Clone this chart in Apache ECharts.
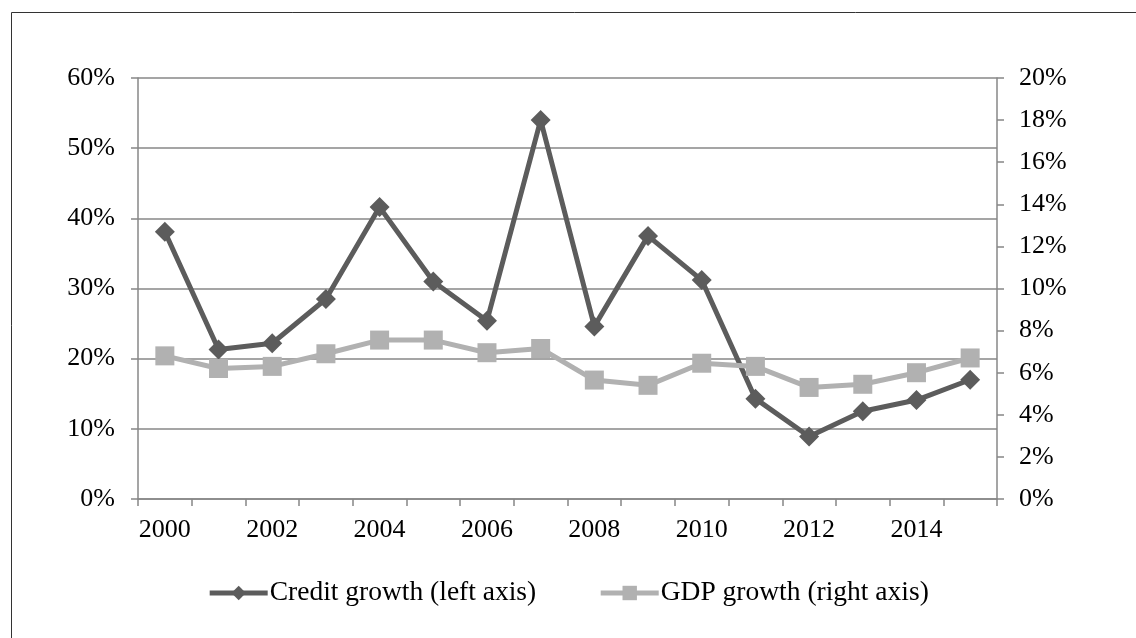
<!DOCTYPE html>
<html>
<head>
<meta charset="utf-8">
<script src="https://cdn.jsdelivr.net/npm/echarts@6/dist/echarts.min.js"></script>
<style>html,body{margin:0;padding:0;background:#fff;}#c{width:1136px;height:638px;}</style>
</head>
<body>
<div id="c"></div>
<script>
const years = ['2000','2001','2002','2003','2004','2005','2006','2007','2008','2009','2010','2011','2012','2013','2014','2015'];
const creditGrowth = [38.1, 21.3, 22.2, 28.5, 41.6, 31.0, 25.4, 54.0, 24.6, 37.5, 31.2, 14.3, 8.9, 12.5, 14.1, 17.0];
const gdpGrowth = [6.8, 6.2, 6.3, 6.9, 7.55, 7.55, 6.95, 7.15, 5.65, 5.4, 6.45, 6.3, 5.3, 5.45, 6.0, 6.7];
const seriesNames = ['Credit growth (left axis)', 'GDP growth (right axis)'];

const FONT = 'Liberation Serif';
const gridColor = '#878787';
const chart = echarts.init(document.getElementById('c'));
chart.setOption({
  animation: false,
  backgroundColor: '#fff',
  textStyle: { fontFamily: FONT },
  graphic: [{
    type: 'rect', left: 9, top: 10, silent: true,
    shape: { x: 0, y: 0, width: 1200, height: 700 },
    style: { fill: 'none', stroke: '#333', lineWidth: 1 }
  }],
  grid: { left: 138, right: 139, top: 78, bottom: 139 },
  legend: {
    left: 'center', top: 574, itemGap: 62, itemWidth: 58, itemHeight: 18,
    lineStyle: { width: 5 },
    textStyle: { fontFamily: FONT, fontSize: 27.5, color: '#000', padding: [0,0,0,-3] },
    data: seriesNames
  },
  xAxis: {
    type: 'category', data: years, boundaryGap: true,
    axisLine: { lineStyle: { color: gridColor, width: 1.5 } },
    axisTick: { show: true, inside: false, interval: 0, length: 7, lineStyle: { color: gridColor, width: 1.5 } },
    axisLabel: { interval: 1, fontFamily: FONT, fontSize: 26, color: '#000', margin: 18 },
    splitLine: { show: false }
  },
  yAxis: [{
    type: 'value', min: 0, max: 60, interval: 10,
    axisLine: { show: true, lineStyle: { color: gridColor, width: 1.5 } },
    axisTick: { show: true, inside: false, length: 7, lineStyle: { color: gridColor, width: 1.5 } },
    axisLabel: { formatter: '{value}%', fontFamily: FONT, fontSize: 26, color: '#000', margin: 23 },
    splitLine: { show: true, lineStyle: { color: gridColor, width: 1.5 } }
  }, {
    type: 'value', min: 0, max: 20, interval: 2, position: 'right',
    axisLine: { show: true, lineStyle: { color: gridColor, width: 1.5 } },
    axisTick: { show: true, inside: false, length: 7, lineStyle: { color: gridColor, width: 1.5 } },
    axisLabel: { formatter: '{value}%', fontFamily: FONT, fontSize: 26, color: '#000', margin: 22 },
    splitLine: { show: false }
  }],
  series: [{
    name: seriesNames[0], type: 'line', yAxisIndex: 0, data: creditGrowth,
    symbol: 'diamond', symbolSize: 20,
    lineStyle: { color: '#5c5c5c', width: 5 },
    itemStyle: { color: '#5c5c5c' }
  }, {
    name: seriesNames[1], type: 'line', yAxisIndex: 1, data: gdpGrowth,
    symbol: 'rect', symbolSize: 19,
    lineStyle: { color: '#b1b1b1', width: 5 },
    itemStyle: { color: '#b1b1b1' }
  }]
});
</script>
</body>
</html>
